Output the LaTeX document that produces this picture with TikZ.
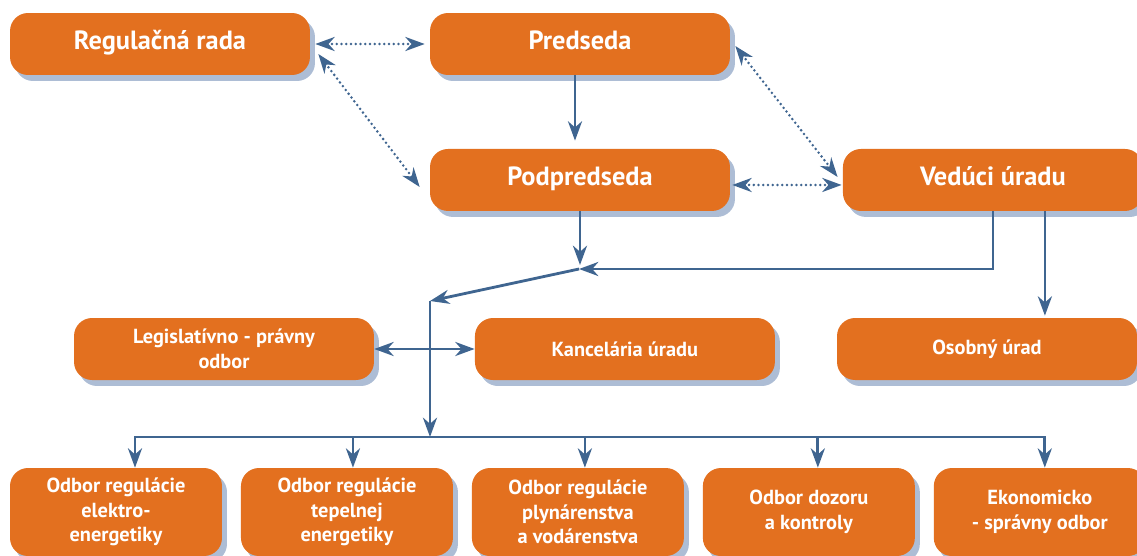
\documentclass[tikz,border=0pt]{standalone}
\usepackage{fontspec}
\setmainfont{PT Sans}
\usetikzlibrary{arrows.meta, positioning, shadows}
\definecolor{boxorange}{HTML}{E3701F}
\definecolor{boxshade}{HTML}{ADBDD5}
\definecolor{linkblue}{HTML}{3F6590}

\begin{document}
\begin{tikzpicture}[x=0.02cm, y=-0.02cm, node distance=1cm, on grid,
    >={Stealth[length=11pt,width=8pt,inset=3.5pt]},
    unit/.style={rectangle, rounded corners=0.36cm, fill=boxorange, text=white, align=center,
      drop shadow={shadow xshift=0.1cm, shadow yshift=-0.12cm, fill=boxshade, opacity=1}},
    big/.style={unit, minimum width=6cm, minimum height=1.24cm, text height=1.9ex, text depth=0.6ex,
      font=\fontsize{15}{18}\selectfont\bfseries},
    mid/.style={unit, minimum width=6cm, minimum height=1.24cm, font=\fontsize{11.6}{13.9}\selectfont\bfseries},
    dept/.style={unit, minimum width=4.24cm, minimum height=1.76cm, font=\fontsize{11.6}{13.9}\selectfont\bfseries},
    link/.style={linkblue, line width=1.6pt},
    loose/.style={link, line width=1.6pt, line cap=round, dash pattern=on 0pt off 2.7pt}]
  \useasboundingbox (0,0) rectangle (1137,555);
  \clip (0,0) rectangle (1137,555);

  \node[big] (rada) at (160,44) {Regulačná rada};
  \node[big] (predseda) at (580,44) {Predseda};
  \node[big, below=2.72cm of predseda] (podpredseda) {Podpredseda};
  \node[big, right=8.26cm of podpredseda] (veduci) {Vedúci úradu};
  \node[mid] (legis) at (224,349) {Legislatívno - právny\\odbor};
  \node[mid, right=8.02cm of legis] (kancel) {Kancelária úradu};
  \node[mid] (osobny) at (987,349) {Osobný úrad};
  \node[dept] (ekel) at (116,512) {Odbor regulácie\\elektro-\\energetiky};
  \node[dept, right=4.62cm of ekel] (tepl) {Odbor regulácie\\tepelnej\\energetiky};
  \node[dept, right=4.62cm of tepl] (plyn) {Odbor regulácie\\plynárenstva\\a vodárenstva};
  \node[dept, right=4.62cm of plyn] (dozor) {Odbor dozoru\\a kontroly};
  \node[dept, right=4.62cm of dozor] (ekon) {Ekonomicko\\- správny odbor};

  \coordinate (junc) at (579,269);
  \coordinate (split) at (430,301);
  \coordinate (bus) at (430,437);

  \draw[loose, <->, shorten <=0.1cm, shorten >=0.1cm] (rada) -- (predseda);
  \draw[loose, <->] ([xshift=0.16cm, yshift=-0.2cm]rada.east) -- ([xshift=-0.2cm, yshift=-0.14cm]podpredseda.west);
  \draw[loose, <->] ([xshift=0.1cm, yshift=-0.04cm]predseda.east) -- ([xshift=-0.1cm, yshift=0.06cm]veduci.west);
  \draw[loose, <->] ([xshift=0.04cm, yshift=-0.1cm]podpredseda.east) -- ([xshift=-0.02cm, yshift=-0.1cm]veduci.west);
  \draw[link, ->, shorten >=0.16cm] ([xshift=-0.1cm]predseda.south) -- ([xshift=-0.1cm]podpredseda.north);
  \draw[link, ->, shorten >=0.08cm] (podpredseda.south) -- (podpredseda.south |- junc);
  \draw[link, ->] (veduci.south) |- (junc);
  \draw[link, ->, shorten >=0.04cm] ([xshift=1.04cm]veduci.south) -- ([xshift=1.04cm]veduci.south |- osobny.north);
  \draw[link, ->] (junc) -- (split);
  \draw[link, ->] (split) -- (bus);
  \draw[link, <->] (legis) -- (kancel);
  \foreach \n/\dx in {ekel/0.38, tepl/0.12, plyn/0.14, dozor/0.18, ekon/0.1}
    \draw[link, ->] (bus) -| ([xshift=\dx cm]\n.north);
\end{tikzpicture}
\end{document}
